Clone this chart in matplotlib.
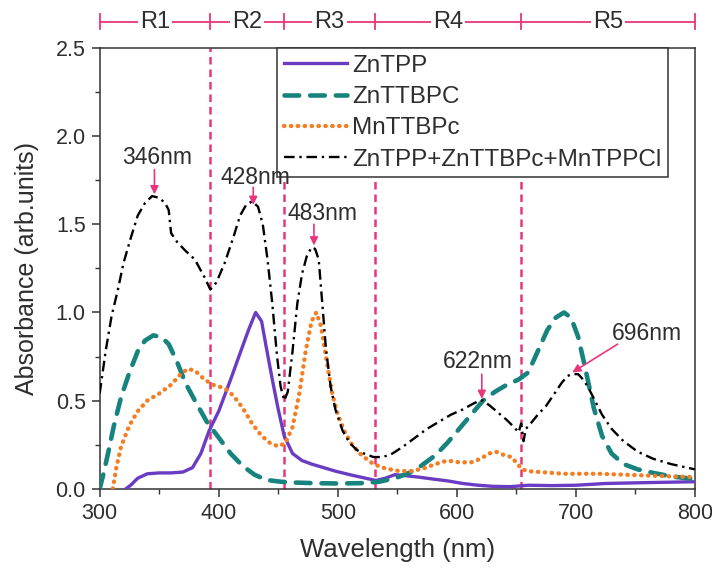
import matplotlib
matplotlib.use('Agg')
import matplotlib.pyplot as plt
from matplotlib.ticker import MultipleLocator

plt.rcParams['font.family'] = ['Liberation Sans', 'DejaVu Sans']

# ZnTPP
wl_zntpp = [322, 326, 332, 340, 350, 360, 370, 378, 385, 392, 400, 410, 418, 425, 431, 436, 440,
            445, 450, 455, 462, 470, 478, 488, 498, 510, 520, 532, 540, 548, 556, 568, 580, 592,
            605, 618, 630, 645, 660, 680, 700, 725, 760, 800]
ab_zntpp = [0, 0.02, 0.06, 0.085, 0.09, 0.09, 0.095, 0.12, 0.2, 0.33, 0.44, 0.62, 0.77, 0.9, 1.0,
            0.95, 0.8, 0.62, 0.45, 0.3, 0.2, 0.16, 0.14, 0.12, 0.1, 0.08, 0.065, 0.047, 0.06, 0.08,
            0.075, 0.066, 0.055, 0.045, 0.03, 0.02, 0.014, 0.012, 0.02, 0.018, 0.02, 0.03, 0.035, 0.04]

# ZnTTBPC
wl_znttbpc = [300, 303, 307, 312, 318, 325, 332, 338, 345, 352, 358, 365, 372, 380, 390, 400, 410,
              420, 430, 440, 452, 465, 480, 500, 520, 535, 548, 560, 570, 582, 592, 602, 612, 622,
              632, 642, 652, 660, 668, 676, 683, 690, 696, 702, 708, 715, 722, 730, 740, 752, 765,
              780, 800]
ab_znttbpc = [0, 0.08, 0.2, 0.36, 0.52, 0.66, 0.78, 0.84, 0.87, 0.86, 0.82, 0.72, 0.6, 0.5, 0.38,
              0.29, 0.2, 0.13, 0.08, 0.05, 0.04, 0.035, 0.032, 0.03, 0.032, 0.04, 0.06, 0.09, 0.13,
              0.19, 0.26, 0.34, 0.42, 0.5, 0.55, 0.59, 0.62, 0.66, 0.78, 0.9, 0.97, 1.0, 0.97, 0.86,
              0.68, 0.46, 0.3, 0.2, 0.14, 0.11, 0.09, 0.07, 0.055]

# MnTTBPc
wl_mnttbpc = [311, 314, 318, 325, 332, 340, 350, 360, 368, 374, 380, 388, 395, 405, 412, 420, 428,
              436, 443, 450, 456, 462, 468, 473, 478, 482, 486, 490, 495, 500, 506, 512, 520, 530,
              540, 552, 562, 572, 582, 592, 602, 612, 620, 627, 633, 640, 646, 651, 655, 660, 670,
              690, 720, 760, 800]
ab_mnttbpc = [0, 0.12, 0.24, 0.36, 0.44, 0.5, 0.54, 0.59, 0.65, 0.68, 0.67, 0.62, 0.59, 0.57, 0.53,
              0.46, 0.37, 0.3, 0.26, 0.24, 0.26, 0.35, 0.55, 0.78, 0.95, 1.0, 0.92, 0.75, 0.55, 0.42,
              0.32, 0.25, 0.19, 0.14, 0.115, 0.1, 0.1, 0.115, 0.14, 0.16, 0.15, 0.15, 0.17, 0.2,
              0.21, 0.19, 0.18, 0.14, 0.11, 0.1, 0.095, 0.085, 0.085, 0.075, 0.066]

# ZnTPP+ZnTTBPc+MnTPPCl
wl_mix = [300, 305, 310, 315, 320, 326, 332, 338, 344, 350, 355, 358, 360, 365, 372, 380, 388, 393,
          398, 405, 412, 418, 423, 428, 433, 437, 441, 445, 449, 452, 455, 458, 462, 466, 470, 474,
          478, 481, 484, 487, 490, 494, 498, 504, 510, 516, 522, 530, 538, 546, 555, 565, 575, 585,
          595, 605, 613, 619, 622, 628, 635, 642, 648, 652, 654, 656, 658, 662, 668, 675, 682, 688,
          693, 697, 702, 706, 710, 716, 722, 730, 740, 752, 765, 780, 800]
ab_mix = [0.54, 0.78, 0.98, 1.12, 1.28, 1.42, 1.55, 1.62, 1.66, 1.65, 1.62, 1.58, 1.45, 1.4, 1.35,
          1.3, 1.2, 1.13, 1.17, 1.28, 1.42, 1.55, 1.61, 1.63, 1.6, 1.5, 1.3, 1.05, 0.75, 0.58, 0.5,
          0.55, 0.78, 1.05, 1.22, 1.32, 1.37, 1.36, 1.3, 1.05, 0.8, 0.58, 0.45, 0.33, 0.26, 0.22,
          0.2, 0.18, 0.18, 0.2, 0.24, 0.29, 0.34, 0.38, 0.42, 0.45, 0.48, 0.5, 0.5, 0.47, 0.43, 0.39,
          0.35, 0.32, 0.37, 0.27, 0.34, 0.37, 0.42, 0.47, 0.54, 0.6, 0.64, 0.65, 0.65, 0.62, 0.58,
          0.5, 0.42, 0.34, 0.27, 0.21, 0.17, 0.14, 0.11]

bounds = [300, 393, 455, 531, 654, 800]
regions = ['R1', 'R2', 'R3', 'R4', 'R5']

pink = '#e8367c'
txt = '#2e2e2e'

fig = plt.figure(figsize=(7.12, 5.71), dpi=100)
ax = fig.add_axes([0.140, 0.144, 0.836, 0.772])

ax.plot(wl_zntpp, ab_zntpp, color='#6a3cc4', lw=2.4, label='ZnTPP', zorder=3)
ax.plot(wl_znttbpc, ab_znttbpc, color='#17837f', lw=3.3, dashes=(3.2, 2.4),
        dash_capstyle='round', label='ZnTTBPC', zorder=3)
ax.plot(wl_mnttbpc, ab_mnttbpc, color='#f47d22', lw=3.1, dashes=(0.1, 1.5),
        dash_capstyle='round', label='MnTTBPc', zorder=3)
ax.plot(wl_mix, ab_mix, color='black', lw=1.7, dashes=(4.5, 2, 1, 2),
        label='ZnTPP+ZnTTBPc+MnTPPCl', zorder=3)

for b in bounds[1:-1]:
    ax.axvline(b, color=pink, lw=1.8, ls=(0, (3, 2)), zorder=2)

# region bracket above the axes
yb = 2.65
ax.plot([300, 800], [yb, yb], color=pink, lw=1.3, clip_on=False)
for b in bounds:
    ax.plot([b, b], [yb - 0.045, yb + 0.045], color=pink, lw=1.3, clip_on=False)
for i, r in enumerate(regions):
    ax.text((bounds[i] + bounds[i + 1]) / 2, yb, r, ha='center', va='center', fontsize=17,
            color=txt, bbox=dict(facecolor='white', edgecolor='none', pad=1.5), clip_on=False)

arrow = dict(arrowstyle='-|>', color=pink, lw=1.2, mutation_scale=12, shrinkA=0, shrinkB=0)
fs = 16.5
ax.text(348, 1.88, '346nm', ha='center', va='center', fontsize=fs, color=txt)
ax.annotate('', xy=(346, 1.67), xytext=(346, 1.81), arrowprops=arrow)
ax.text(431, 1.765, '428nm', ha='center', va='center', fontsize=fs, color=txt, zorder=6)
ax.annotate('', xy=(429, 1.61), xytext=(429, 1.71), arrowprops=arrow)
ax.text(487, 1.56, '483nm', ha='center', va='center', fontsize=fs, color=txt)
ax.annotate('', xy=(480, 1.38), xytext=(480, 1.50), arrowprops=arrow)
ax.text(618, 0.72, '622nm', ha='center', va='center', fontsize=fs, color=txt)
ax.annotate('', xy=(621, 0.51), xytext=(621, 0.65), arrowprops=arrow)
ax.text(760, 0.88, '696nm', ha='center', va='center', fontsize=fs, color=txt)
ax.annotate('', xy=(697, 0.66), xytext=(735, 0.82), arrowprops=arrow)

ax.set_xlim(300, 800)
ax.set_ylim(0, 2.5)
ax.xaxis.set_major_locator(MultipleLocator(100))
ax.xaxis.set_minor_locator(MultipleLocator(50))
ax.yaxis.set_major_locator(MultipleLocator(0.5))
ax.yaxis.set_minor_locator(MultipleLocator(0.25))
ax.yaxis.set_major_formatter(plt.FormatStrFormatter('%.1f'))
ax.tick_params(which='major', length=6, width=1.1, labelsize=15.5, colors='#333333',
               labelcolor=txt, pad=4)
ax.tick_params(which='minor', length=3.5, width=1.0, colors='#333333')
for s in ax.spines.values():
    s.set_linewidth(1.1)
    s.set_color('#333333')

ax.set_xlabel('Wavelength (nm)', fontsize=18.5, color=txt, labelpad=10)
ax.set_ylabel('Absorbance (arb.units)', fontsize=18, color=txt, labelpad=12)

leg = ax.legend(loc='upper right', bbox_to_anchor=(0.955, 1.0), borderaxespad=0, fontsize=17.5,
                handlelength=2.6, labelspacing=0.38, handletextpad=0.2, borderpad=0.28,
                fancybox=False, framealpha=1, edgecolor='#333333')
leg.get_frame().set_linewidth(1.1)
for t in leg.get_texts():
    t.set_color(txt)
leg.set_zorder(5)

fig.savefig('out.png', dpi=100)
